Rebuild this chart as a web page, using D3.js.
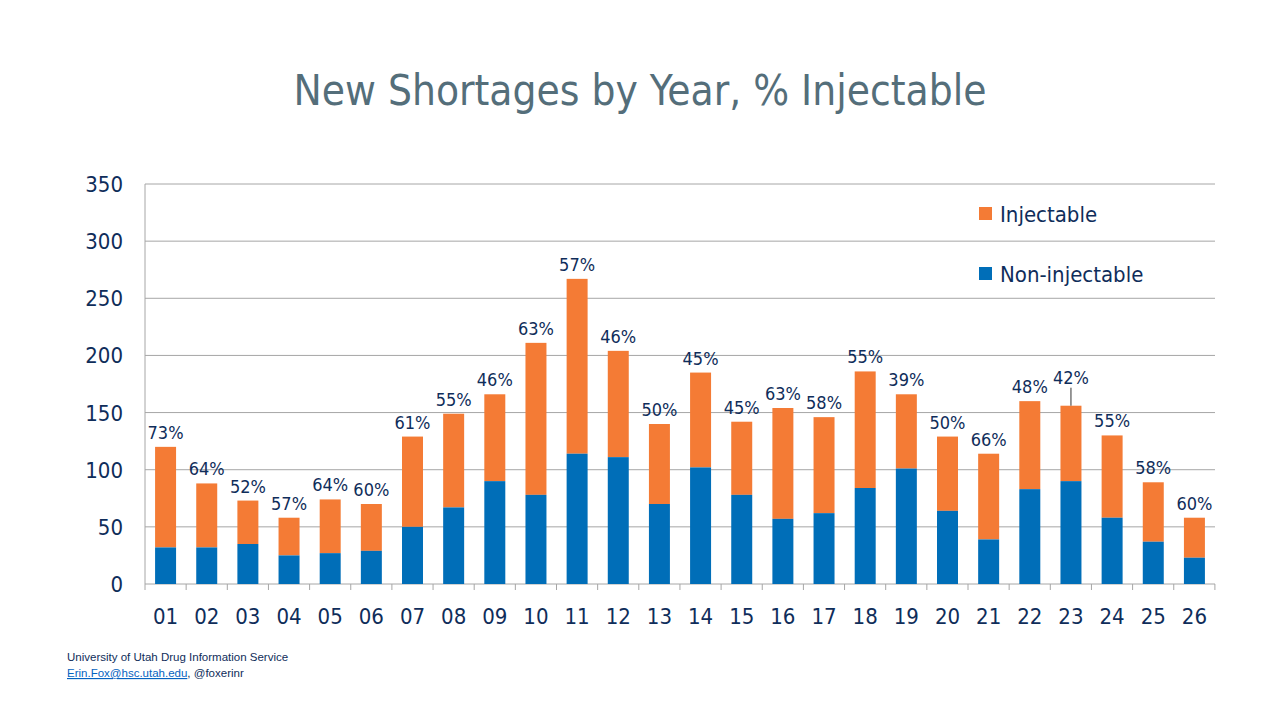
<!DOCTYPE html>
<html><head><meta charset="utf-8">
<script src="https://cdn.jsdelivr.net/npm/d3@7"></script>
<style>body{margin:0;background:#fff}text{font-family:"DejaVu Sans Condensed","DejaVu Sans",sans-serif}text.foot{font-family:"Liberation Sans",Arial,sans-serif}</style>
</head><body><svg id="c" width="1280" height="720"></svg>
<script>
const years=["01","02","03","04","05","06","07","08","09","10","11","12","13","14","15","16","17","18","19","20","21","22","23","24","25","26"];
const totals=[120,88,73,58,74,70,129,149,166,211,267,204,140,185,142,154,146,186,166,129,114,160,156,130,89,58];
const nonInjectable=[32,32,35,25,27,29,50,67,90,78,114,111,70,102,78,57,62,84,101,64,39,83,90,58,37,23];
const pctLabels=["73%","64%","52%","57%","64%","60%","61%","55%","46%","63%","57%","46%","50%","45%","45%","63%","58%","55%","39%","50%","66%","48%","42%","55%","58%","60%"];
const yTicks=[0,50,100,150,200,250,300,350];
const svg=d3.select("#c");
const x=d3.scaleBand().domain(years).range([145,1215]).paddingInner(0.49).paddingOuter(0.245);
const y=d3.scaleLinear().domain([0,350]).range([584,184]);
svg.append("text").attr("x",640).attr("y",105).attr("text-anchor","middle").attr("font-size",42).attr("fill","#546e7a").text("New Shortages by Year, % Injectable");
svg.append("g").selectAll("line").data(yTicks.slice(1)).join("line").attr("x1",145).attr("x2",1215).attr("y1",d=>y(d)).attr("y2",d=>y(d)).attr("stroke","#a6a6a6");
svg.append("g").selectAll("text").data(yTicks).join("text").attr("x",123).attr("y",d=>y(d)+8).attr("text-anchor","end").attr("font-size",22).attr("fill","#0f2d5a").text(d=>d);
svg.append("line").attr("x1",145).attr("x2",145).attr("y1",184).attr("y2",584).attr("stroke","#a6a6a6");
const bw=41.15;
svg.append("g").selectAll("line").data(d3.range(27)).join("line").attr("x1",d=>145+d*bw).attr("x2",d=>145+d*bw).attr("y1",584).attr("y2",590).attr("stroke","#a6a6a6");
svg.append("line").attr("x1",145).attr("x2",1215).attr("y1",584).attr("y2",584).attr("stroke","#a6a6a6");
const g=svg.append("g");
years.forEach((yr,i)=>{
  g.append("rect").attr("x",x(yr)).attr("width",x.bandwidth()).attr("y",y(totals[i])).attr("height",y(nonInjectable[i])-y(totals[i])).attr("fill","#f47b35");
  g.append("rect").attr("x",x(yr)).attr("width",x.bandwidth()).attr("y",y(nonInjectable[i])).attr("height",584-y(nonInjectable[i])).attr("fill","#006eb8");
  const cx=x(yr)+x.bandwidth()/2;
  const ly=(yr==="23")?y(totals[i])-22:y(totals[i])-8;
  g.append("text").attr("x",cx).attr("y",ly).attr("text-anchor","middle").attr("font-size",18).attr("fill","#0f2d5a").text(pctLabels[i]);
  g.append("text").attr("x",cx).attr("y",624).attr("text-anchor","middle").attr("font-size",22).attr("fill","#0f2d5a").text(yr);
  if(yr==="23") g.append("line").attr("x1",cx).attr("x2",cx).attr("y1",y(totals[i])-18).attr("y2",y(totals[i])).attr("stroke","#333");
});
[["Injectable","#f47b35",214],["Non-injectable","#006eb8",274]].forEach(([t,c,yy])=>{
  svg.append("rect").attr("x",979).attr("y",yy-7).attr("width",13).attr("height",13).attr("fill",c);
  svg.append("text").attr("x",1000).attr("y",yy+8).attr("font-size",22).attr("fill","#0f2d5a").text(t);
});
svg.append("text").attr("class","foot").attr("x",67).attr("y",661).attr("font-size",11.5).attr("fill","#0f2d5a").text("University of Utah Drug Information Service");
const f=svg.append("text").attr("class","foot").attr("x",67).attr("y",677).attr("font-size",11.5).attr("fill","#0f2d5a");
f.append("tspan").attr("fill","#0563c1").attr("text-decoration","underline").text("Erin.Fox@hsc.utah.edu");
f.append("tspan").text(", @foxerinr");
</script></body></html>
